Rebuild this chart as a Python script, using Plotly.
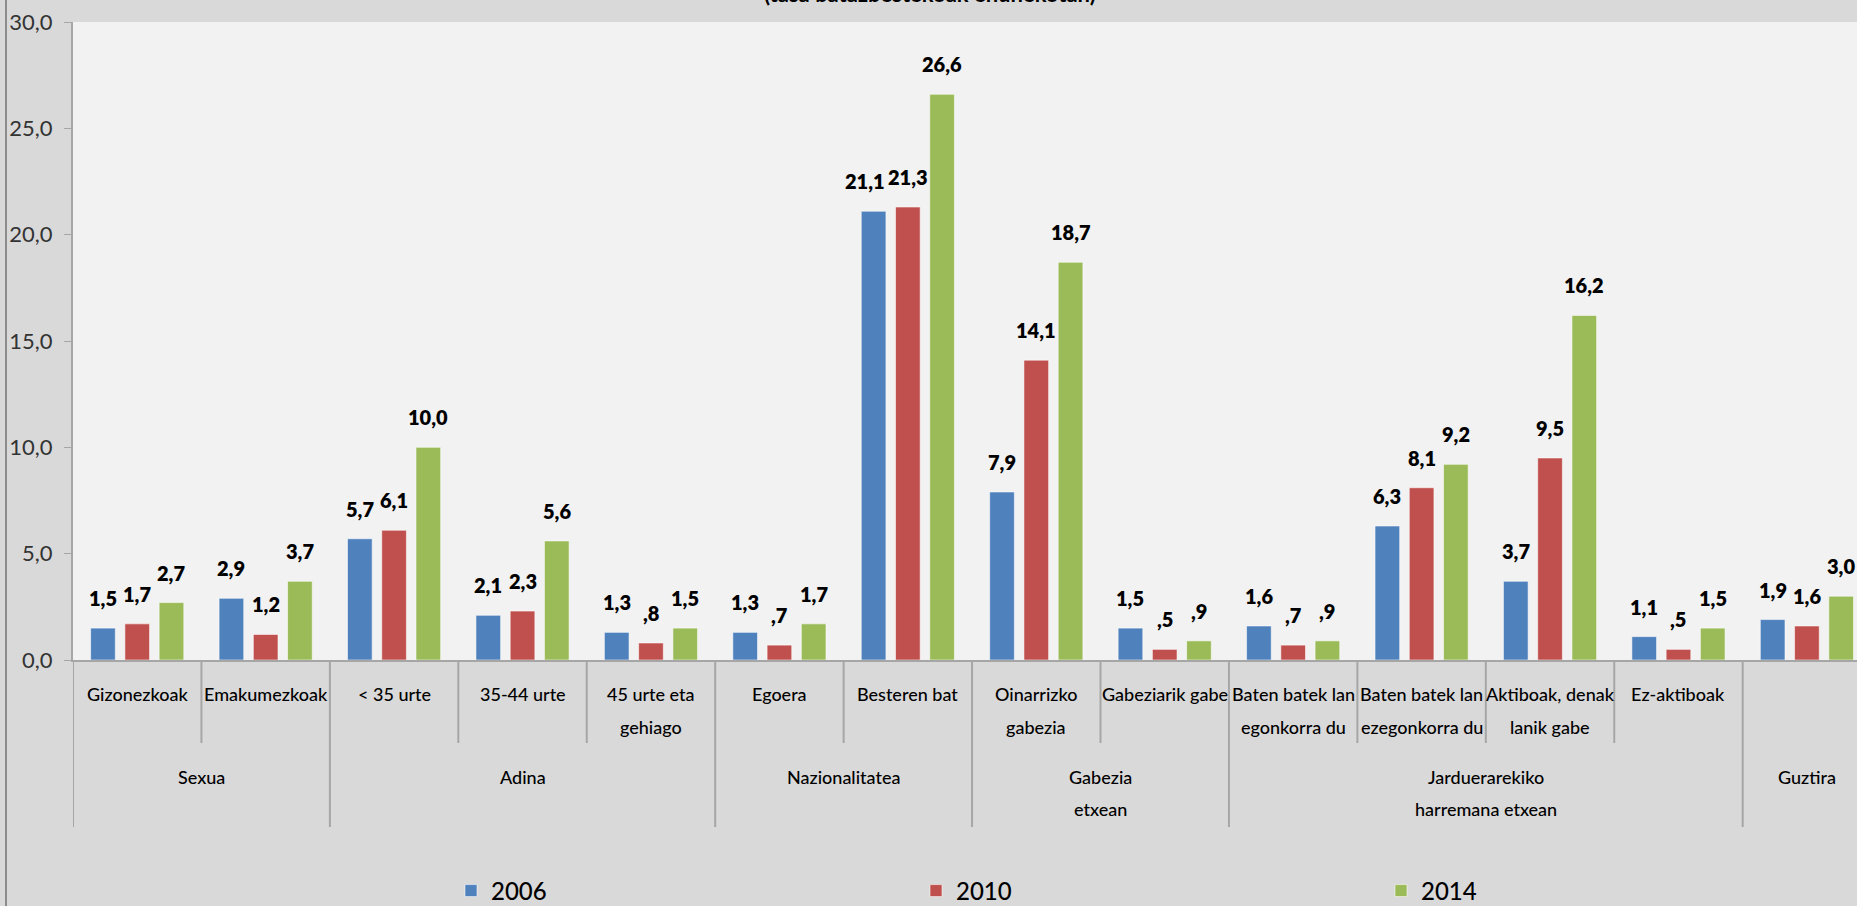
import plotly.graph_objects as go

# data
years = ["2006", "2010", "2014"]
categories = [
    "Gizonezkoak", "Emakumezkoak", "&lt; 35 urte", "35-44 urte", "45 urte eta\ngehiago",
    "Egoera", "Besteren bat", "Oinarrizko\ngabezia", "Gabeziarik gabe",
    "Baten batek lan\negonkorra du", "Baten batek lan\nezegonkorra du",
    "Aktiboak, denak\nlanik gabe", "Ez-aktiboak", "",
]
groups = ["Sexua", "Adina", "Nazionalitatea", "Gabezia\netxean",
          "Jarduerarekiko\nharremana etxean", "Guztira"]
group_sizes = [2, 3, 2, 2, 4, 1]

v2006 = [1.5, 2.9, 5.7, 2.1, 1.3, 1.3, 21.1, 7.9, 1.5, 1.6, 6.3, 3.7, 1.1, 1.9]
v2010 = [1.7, 1.2, 6.1, 2.3, 0.8, 0.7, 21.3, 14.1, 0.5, 0.7, 8.1, 9.5, 0.5, 1.6]
v2014 = [2.7, 3.7, 10.0, 5.6, 1.5, 1.7, 26.6, 18.7, 0.9, 0.9, 9.2, 16.2, 1.5, 3.0]
series = [v2006, v2010, v2014]
colors = ["#4F81BD", "#C0504D", "#9BBB59"]

title_text = "(tasa batazbestekoak ehunekotan)"

# layout constants (pixels)
W, H = 1857, 906
M_L, M_T, M_B = 73, 22, 246
PLOT_H = H - M_T - M_B
FONT = "Lato, Roboto, DejaVu Sans Condensed, sans-serif"
GRAY = "#A6A6A6"
BARGAP = 0.2

# labels nudged sideways in the original so they don't collide
label_nudge = {(0, 6): -9}


def paper_y(py):
    # pixel row below the plot -> paper coordinate
    return (H - M_B - py) / PLOT_H


def fmt(v):
    s = f"{v:.1f}".replace(".", ",")
    return s[1:] if s.startswith("0,") else s


xs = list(range(len(categories)))
fig = go.Figure()

for name, vals, col in zip(years, series, colors):
    fig.add_trace(go.Bar(
        x=xs, y=vals, name=name,
        marker=dict(color=col, line=dict(color="rgba(255,255,255,0.55)", width=1)),
        hoverinfo="y+name",
    ))

annotations = []
slot = (1 - BARGAP) / len(series)
for k, vals in enumerate(series):
    off = (k - (len(series) - 1) / 2) * slot
    for i, v in enumerate(vals):
        annotations.append(dict(
            x=i + off, y=v, xref="x", yref="y", text=fmt(v),
            showarrow=False, yanchor="middle", yshift=30,
            xshift=label_nudge.get((k, i), 0),
            font=dict(family=FONT, size=20, color="#000000", weight=800),
        ))

# inner category labels
for i, lab in enumerate(categories):
    for j, line in enumerate(lab.split("\n")):
        if not line:
            continue
        annotations.append(dict(
            x=i, y=paper_y(694 + j * 33), xref="x", yref="paper", text=line,
            showarrow=False, yanchor="middle",
            font=dict(family=FONT, size=18, color="#000000", weight=500),
        ))

# group labels + dividers
shapes = []
start = 0
for g, n in zip(groups, group_sizes):
    center = start + (n - 1) / 2
    for j, line in enumerate(g.split("\n")):
        annotations.append(dict(
            x=center, y=paper_y(777 + j * 32), xref="x", yref="paper", text=line,
            showarrow=False, yanchor="middle",
            font=dict(family=FONT, size=18, color="#000000", weight=500),
        ))
    shapes.append(dict(type="line", xref="x", yref="paper", x0=start - 0.5, x1=start - 0.5,
                       y0=0, y1=paper_y(827), line=dict(color=GRAY, width=2)))
    for b in range(1, n):
        shapes.append(dict(type="line", xref="x", yref="paper", x0=start + b - 0.5,
                           x1=start + b - 0.5, y0=0, y1=paper_y(743),
                           line=dict(color=GRAY, width=2)))
    start += n

# chart border on the left
shapes.append(dict(type="line", xref="paper", yref="paper",
                   x0=(6 - M_L) / (W - M_L), x1=(6 - M_L) / (W - M_L),
                   y0=paper_y(H + 5), y1=1 + (M_T + 5) / PLOT_H,
                   line=dict(color="#8C8C8C", width=2)))

# title, mostly cut off at the top
annotations.append(dict(
    x=(930 - M_L) / (W - M_L), y=1, xref="paper", yref="paper",
    text="<b>%s</b>" % title_text, showarrow=False, yanchor="bottom", yshift=13,
    font=dict(family=FONT, size=22, color="#000000"),
))

fig.update_layout(
    width=W, height=H,
    margin=dict(l=M_L, r=0, t=M_T, b=M_B, autoexpand=False),
    paper_bgcolor="#D9D9D9",
    plot_bgcolor="#F2F2F2",
    separators=",.",
    barmode="group",
    bargap=BARGAP,
    bargroupgap=0.28,
    font=dict(family=FONT, size=18, color="#000000"),
    showlegend=True,
    legend=dict(
        orientation="h", x=(451 - M_L) / (W - M_L), xanchor="left",
        y=paper_y(891), yanchor="middle",
        entrywidth=420, entrywidthmode="pixels",
        font=dict(family=FONT, size=24, color="#000000", weight=500),
        bgcolor="rgba(0,0,0,0)",
    ),
    xaxis=dict(
        range=[-0.5, 13.39], showticklabels=False, showgrid=False, zeroline=False,
        showline=True, linecolor=GRAY, linewidth=2, ticks="", fixedrange=True,
    ),
    yaxis=dict(
        range=[0, 30], dtick=5, tickformat=".1f", showgrid=False, zeroline=False,
        showline=True, linecolor=GRAY, linewidth=2, ticks="outside", ticklen=7,
        tickcolor=GRAY, tickwidth=1, ticklabelstandoff=7,
        tickfont=dict(family=FONT, size=22, color="#333333"),
    ),
    annotations=annotations,
    shapes=shapes,
)

fig.write_html("out.html", config={"displayModeBar": False},
               post_script="document.body.style.margin='0';")
